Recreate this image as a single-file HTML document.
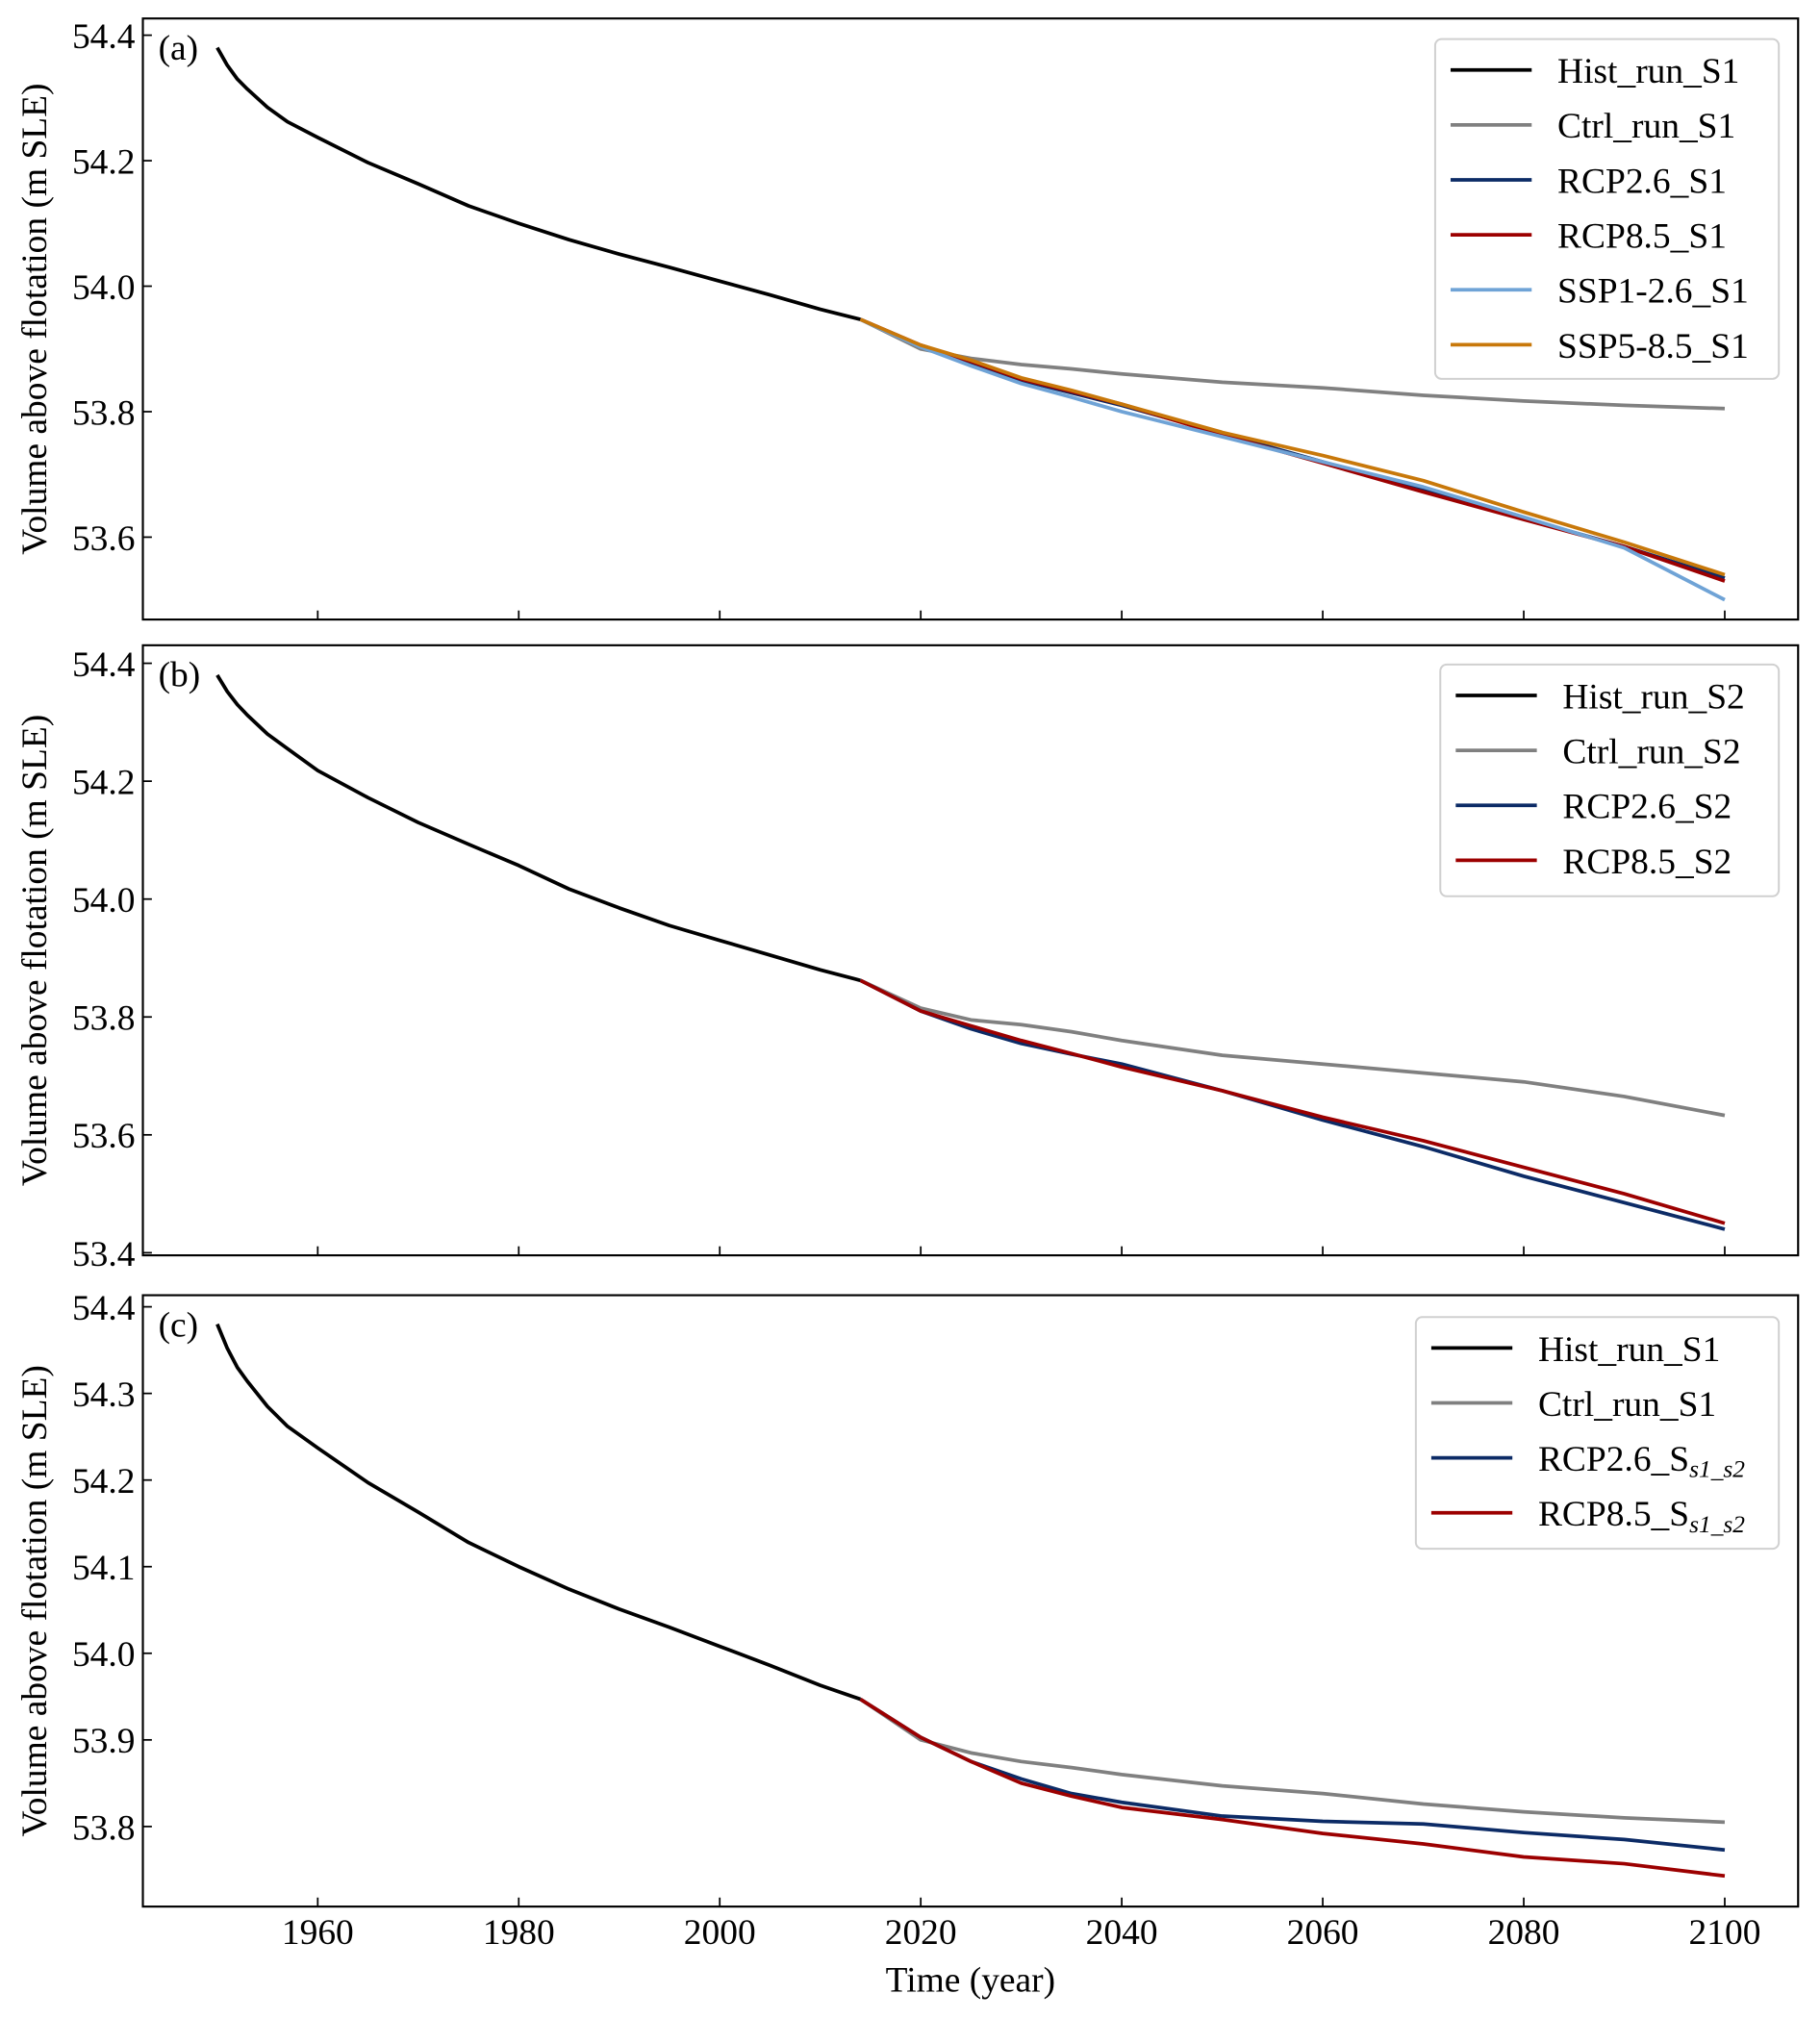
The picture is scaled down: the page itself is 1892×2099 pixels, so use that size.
<!DOCTYPE html>
<html><head><meta charset="utf-8"><style>
html,body{margin:0;padding:0;background:#fff;}
svg{display:block;font-family:"Liberation Serif",serif;}
</style></head><body>
<svg id="chart" width="1892" height="2099" viewBox="0 0 1414 1568" xmlns="http://www.w3.org/2000/svg"></svg>
<script>
// ---- data ----
const histYears = [1950,1951,1952,1953,1955,1957,1960,1965,1970,1975,1980,1985,1990,1995,2000,2005,2010,2014];
const histS1 = [54.38,54.352,54.33,54.314,54.285,54.262,54.237,54.197,54.163,54.128,54.100,54.074,54.051,54.030,54.008,53.986,53.963,53.947];
const histS2 = [54.38,54.352,54.33,54.312,54.28,54.255,54.218,54.172,54.13,54.093,54.057,54.017,53.985,53.955,53.93,53.905,53.88,53.862];
const futYears = [2014,2020,2025,2030,2035,2040,2050,2060,2070,2080,2090,2100];
const ctrlS1 = [53.947,53.900,53.885,53.875,53.868,53.860,53.847,53.838,53.826,53.817,53.810,53.805];
const rcp26S1 = [53.947,53.905,53.878,53.850,53.830,53.810,53.765,53.720,53.675,53.630,53.585,53.535];
const rcp85S1 = [53.947,53.906,53.880,53.852,53.832,53.812,53.763,53.718,53.672,53.628,53.585,53.530];
const ssp126S1 = [53.947,53.903,53.873,53.845,53.823,53.800,53.760,53.720,53.680,53.632,53.583,53.500];
const ssp585S1 = [53.947,53.906,53.882,53.854,53.834,53.812,53.767,53.730,53.690,53.640,53.592,53.540];
const ctrlS2 = [53.862,53.815,53.795,53.787,53.775,53.760,53.735,53.720,53.705,53.690,53.665,53.633];
const rcp26S2 = [53.862,53.810,53.780,53.755,53.737,53.720,53.675,53.625,53.580,53.530,53.485,53.440];
const rcp85S2 = [53.862,53.810,53.785,53.760,53.738,53.715,53.675,53.630,53.590,53.545,53.500,53.450];
const rcp26S12 = [53.947,53.903,53.875,53.855,53.838,53.828,53.812,53.806,53.803,53.793,53.785,53.773];
const rcp85S12 = [53.947,53.903,53.875,53.850,53.835,53.822,53.808,53.792,53.780,53.765,53.757,53.743];
const xTicks = [1960,1980,2000,2020,2040,2060,2080,2100];
const yTicksA = [53.6,53.8,54.0,54.2,54.4];
const yTicksB = [53.4,53.6,53.8,54.0,54.2,54.4];
const yTicksC = [53.8,53.9,54.0,54.1,54.2,54.3,54.4];

const NS="http://www.w3.org/2000/svg";
const svg=document.getElementById('chart');
function mk(tag,attrs,parent){const e=document.createElementNS(NS,tag);for(const k in attrs)e.setAttribute(k,attrs[k]);(parent||svg).appendChild(e);return e;}
const L=111,R=1397,FS=28;
const X=y=>L+(y-1942.6)/(2107.3-1942.6)*(R-L);
const C={black:'#000',gray:'#808080',navy:'#0c2b66',red:'#9c0000',lblue:'#6fa3d6',orange:'#c8780a'};

function panel(cfg){
  const g=mk('g',{});
  
  
  const Y=v=>cfg.y0+(cfg.v0-v)*cfg.ppu;
  mk('rect',{x:L,y:cfg.top,width:R-L,height:cfg.bot-cfg.top,fill:'none',stroke:'#000','stroke-width':1.6},g);
  xTicks.forEach(t=>{
    const tk=mk('line',{x1:X(t),x2:X(t),y1:cfg.bot,y2:cfg.bot-7,stroke:'#000','stroke-width':1.3},g);
    
    
    if(cfg.labels){const tx=mk('text',{x:X(t),y:cfg.bot+29,'text-anchor':'middle','font-size':FS},g);tx.textContent=t;
      
      }
  });
  cfg.yt.forEach(t=>{
    mk('line',{x1:L,x2:L+7,y1:Y(t),y2:Y(t),stroke:'#000','stroke-width':1.3},g);
    const tx=mk('text',{x:L-6,y:Y(t)+10,'text-anchor':'end','font-size':FS},g);tx.textContent=t.toFixed(1);
    
    
  });
  const yc=(cfg.top+cfg.bot)/2;
  const yl=mk('text',{x:36,y:yc,'text-anchor':'middle','font-size':FS,transform:`rotate(-90 36 ${yc})`},g);
  yl.textContent='Volume above flotation (m SLE)';
  
  
  const pl=mk('text',{x:123,y:cfg.top+32,'font-size':FS},g);pl.textContent='('+cfg.id+')';
  
  
  cfg.series.forEach(s=>{
    const pts=s.xs.map((x,i)=>X(x).toFixed(1)+','+Y(s.v[i]).toFixed(1)).join(' ');
    const p=mk('polyline',{points:pts,fill:'none',stroke:s.c,'stroke-width':2.8,'stroke-linejoin':'round'},g);
    
    
  });
  const lg=mk('g',{},g);
  
  
  const lb=cfg.leg;
  mk('rect',{x:lb.x,y:lb.y,width:1382-lb.x,height:lb.h,rx:5,fill:'#fff',stroke:'#d0d0d0','stroke-width':1.5},lg);
  cfg.series.forEach((s,i)=>{
    const yy=lb.y+24+i*42.7;
    mk('line',{x1:lb.x+12,x2:lb.x+75,y1:yy,y2:yy,stroke:s.c,'stroke-width':2.8},lg);
    const tx=mk('text',{x:lb.x+95,y:yy+10,'font-size':FS},lg);
    
    
    if(s.sub){tx.textContent=s.n;const ts=mk('tspan',{'font-size':19,'font-style':'italic',dy:5},tx);ts.textContent=s.sub;}
    else tx.textContent=s.n;
  });
}
panel({id:'a',top:14,bot:481,y0:27,v0:54.4,ppu:487.5,yt:yTicksA,leg:{x:1115,y:30,h:264},series:[
 {n:'Hist_run_S1',c:C.black,xs:histYears,v:histS1},
 {n:'Ctrl_run_S1',c:C.gray,xs:futYears,v:ctrlS1},
 {n:'RCP2.6_S1',c:C.navy,xs:futYears,v:rcp26S1},
 {n:'RCP8.5_S1',c:C.red,xs:futYears,v:rcp85S1},
 {n:'SSP1-2.6_S1',c:C.lblue,xs:futYears,v:ssp126S1},
 {n:'SSP5-8.5_S1',c:C.orange,xs:futYears,v:ssp585S1}]});
panel({id:'b',top:501,bot:975,y0:515,v0:54.4,ppu:458,yt:yTicksB,leg:{x:1119,y:516,h:180},series:[
 {n:'Hist_run_S2',c:C.black,xs:histYears,v:histS2},
 {n:'Ctrl_run_S2',c:C.gray,xs:futYears,v:ctrlS2},
 {n:'RCP2.6_S2',c:C.navy,xs:futYears,v:rcp26S2},
 {n:'RCP8.5_S2',c:C.red,xs:futYears,v:rcp85S2}]});
panel({id:'c',top:1006,bot:1481,y0:1015,v0:54.4,ppu:673,yt:yTicksC,labels:true,leg:{x:1100,y:1023,h:180},series:[
 {n:'Hist_run_S1',c:C.black,xs:histYears,v:histS1},
 {n:'Ctrl_run_S1',c:C.gray,xs:futYears,v:ctrlS1},
 {n:'RCP2.6_S',sub:'s1_s2',c:C.navy,xs:futYears,v:rcp26S12},
 {n:'RCP8.5_S',sub:'s1_s2',c:C.red,xs:futYears,v:rcp85S12}]});
const xt=mk('text',{x:754,y:1547,'text-anchor':'middle','font-size':FS});
xt.textContent='Time (year)';


</script>
</body></html>
